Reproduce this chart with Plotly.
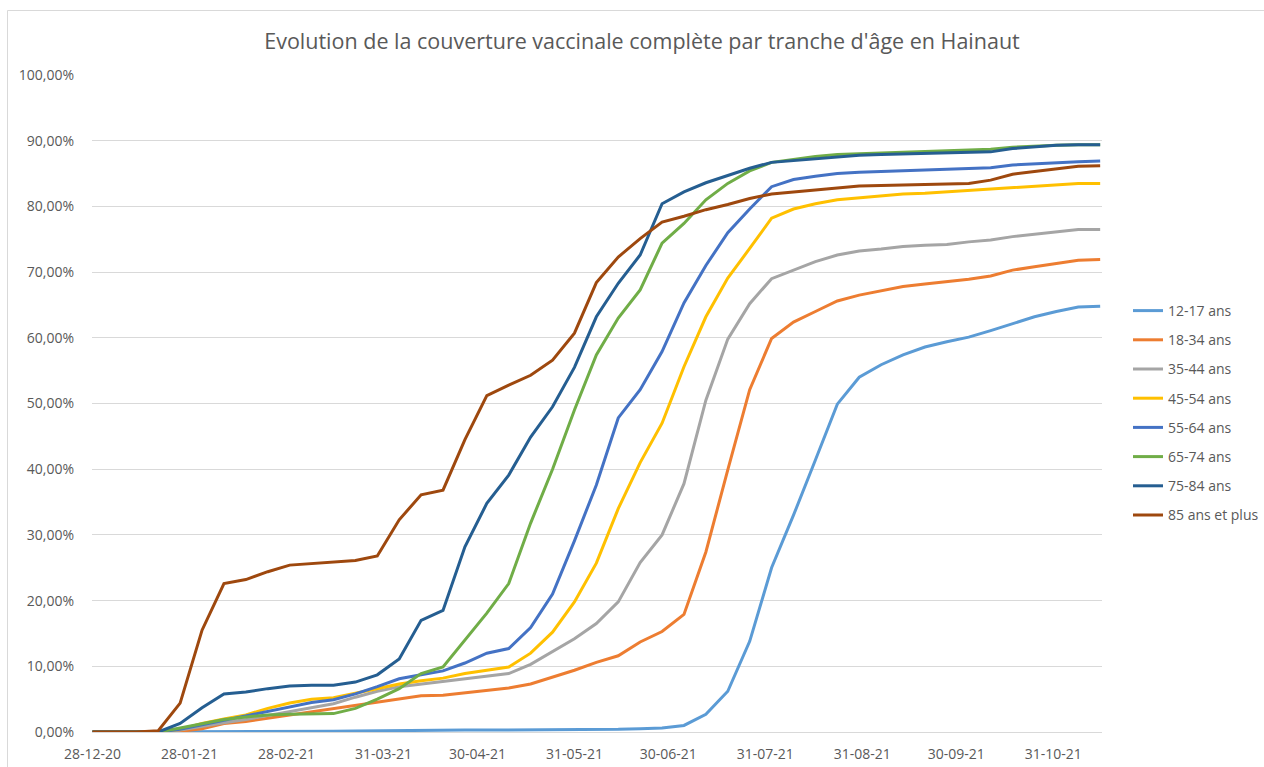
import pandas as pd
import plotly.graph_objects as go

# Weekly dates (Mondays) from 28-12-2020 to 15-11-2021
dates = pd.date_range("2020-12-28", periods=47, freq="7D")

series_names = ["12-17 ans", "18-34 ans", "35-44 ans", "45-54 ans",
                "55-64 ans", "65-74 ans", "75-84 ans", "85 ans et plus"]
series_colors = ["#5B9BD5", "#ED7D31", "#A5A5A5", "#FFC000",
                 "#4472C4", "#70AD47", "#255E91", "#9E480E"]

age_12_17 = [0, 0, 0, 0, 0.05, 0.05, 0.1, 0.1, 0.1, 0.1, 0.1, 0.1, 0.15, 0.2, 0.2,
             0.25, 0.3, 0.3, 0.3, 0.3, 0.3, 0.3, 0.35, 0.4, 0.4, 0.5, 0.6, 1.0, 2.7, 6.2,
             13.8, 25.0, 33.0, 41.4, 49.9, 54.0, 55.9, 57.4, 58.6, 59.4, 60.1, 61.1, 62.2, 63.2, 64.0,
             64.7, 64.8]
age_18_34 = [0, 0, 0, 0, 0.1, 0.5, 1.3, 1.6, 2.1, 2.6, 3.1, 3.5, 4.1, 4.6, 5.1,
             5.5, 5.6, 6.0, 6.3, 6.7, 7.3, 8.3, 9.4, 10.6, 11.6, 13.7, 15.3, 17.9, 27.4, 39.9,
             52.1, 59.9, 62.4, 64.0, 65.6, 66.5, 67.2, 67.8, 68.2, 68.5, 68.9, 69.4, 70.3, 70.8, 71.3,
             71.8, 71.9]
age_35_44 = [0, 0, 0, 0, 0.3, 0.9, 1.4, 1.9, 2.5, 3.1, 3.7, 4.3, 5.3, 6.2, 6.9,
             7.3, 7.8, 8.2, 8.5, 8.9, 10.3, 12.2, 14.2, 16.5, 19.8, 25.8, 30.0, 37.8, 50.5, 59.8,
             65.2, 69.0, 70.3, 71.6, 72.6, 73.2, 73.5, 73.9, 74.1, 74.2, 74.6, 74.9, 75.4, 75.8, 76.1,
             76.5, 76.5]
age_45_54 = [0, 0, 0, 0, 0.4, 1.3, 2.0, 2.6, 3.6, 4.4, 5.0, 5.2, 5.9, 6.6, 7.3,
             7.8, 8.2, 8.9, 9.4, 9.9, 12.0, 15.2, 19.8, 25.7, 34.0, 41.0, 47.0, 55.6, 63.2, 69.1,
             73.6, 78.2, 79.6, 80.4, 81.0, 81.3, 81.6, 81.9, 82.0, 82.2, 82.4, 82.6, 82.9, 83.1, 83.3,
             83.5, 83.5]
age_55_64 = [0, 0, 0, 0, 0.4, 1.1, 1.8, 2.4, 3.1, 3.9, 4.5, 4.9, 5.8, 6.9, 8.1,
             8.7, 9.3, 10.5, 12.0, 12.7, 15.9, 21.0, 29.1, 37.6, 47.8, 52.1, 57.9, 65.3, 71.0, 76.0,
             79.6, 83.0, 84.1, 84.6, 85.0, 85.2, 85.3, 85.5, 85.5, 85.7, 85.8, 85.9, 86.3, 86.5, 86.7,
             86.8, 86.9]
age_65_74 = [0, 0, 0, 0, 0.6, 1.2, 1.9, 2.3, 2.6, 2.7, 2.8, 2.8, 3.6, 5.0, 6.6,
             8.9, 9.9, 14.0, 18.1, 22.6, 31.8, 40.0, 49.0, 57.4, 63.0, 67.3, 74.4, 77.4, 81.0, 83.5,
             85.4, 86.7, 87.2, 87.6, 87.9, 88.0, 88.1, 88.2, 88.3, 88.4, 88.5, 88.7, 89.0, 89.2, 89.3,
             89.4, 89.4]
age_75_84 = [0, 0, 0, 0, 1.3, 3.7, 5.8, 6.1, 6.6, 7.0, 7.1, 7.1, 7.6, 8.7, 11.1,
             17.0, 18.5, 28.2, 34.8, 39.1, 44.9, 49.5, 55.5, 63.2, 68.3, 72.6, 80.4, 82.2, 83.6, 84.7,
             85.8, 86.7, 87.0, 87.3, 87.6, 87.8, 87.9, 88.0, 88.0, 88.1, 88.2, 88.3, 88.8, 89.1, 89.3,
             89.4, 89.4]
age_85_plus = [0, 0, 0, 0.2, 4.4, 15.5, 22.6, 23.2, 24.4, 25.4, 25.6, 25.8, 26.1, 26.8, 32.3,
               36.1, 36.8, 44.5, 51.2, 52.8, 54.3, 56.6, 60.7, 68.4, 72.3, 75.1, 77.6, 78.5, 79.5, 80.3,
               81.2, 81.9, 82.2, 82.6, 82.8, 83.1, 83.2, 83.3, 83.4, 83.5, 83.5, 84.0, 84.9, 85.3, 85.7,
               86.1, 86.2]

x_tick_dates = ["2020-12-28", "2021-01-28", "2021-02-28", "2021-03-31", "2021-04-30",
                "2021-05-31", "2021-06-30", "2021-07-31", "2021-08-31", "2021-09-30",
                "2021-10-31"]
x_tick_labels = ["28-12-20", "28-01-21", "28-02-21", "31-03-21", "30-04-21",
                 "31-05-21", "30-06-21", "31-07-21", "31-08-21", "30-09-21",
                 "31-10-21"]
y_tick_values = [0, 10, 20, 30, 40, 50, 60, 70, 80, 90, 100]
y_tick_labels = [f"{v},00%" for v in y_tick_values]

all_series = [age_12_17, age_18_34, age_35_44, age_45_54,
              age_55_64, age_65_74, age_75_84, age_85_plus]

FONT = "Open Sans, Calibri, sans-serif"
GREY_TEXT = "#595959"
GRID = "#D9D9D9"

fig = go.Figure()
for i, (name, color, vals) in enumerate(zip(series_names, series_colors, all_series)):
    fig.add_trace(go.Scatter(
        x=dates, y=vals, name=name, mode="lines",
        line=dict(color=color, width=3),
        legendgroup=f"g{i}",
    ))

# plot area in pixels: x 92..1102, y 75..732
L, R, T, B = 92, 1102, 75, 732
W, H = 1264, 767

def px_to_paper_x(px):
    return (px - L) / (R - L)

def px_to_paper_y(py):
    return (B - py) / (B - T)

fig.update_layout(
    width=W, height=H,
    margin=dict(l=L, r=W - R, t=T, b=H - B, pad=0, autoexpand=False),
    paper_bgcolor="white", plot_bgcolor="white",
    font=dict(family=FONT, color=GREY_TEXT, size=14),
    title=dict(
        text="Evolution de la couverture vaccinale complète par tranche d'âge en Hainaut",
        font=dict(family=FONT, size=21.5, color=GREY_TEXT),
        x=642 / W, xref="container", xanchor="center",
        y=1 - 41 / H, yref="container", yanchor="middle",
    ),
    xaxis=dict(
        type="date",
        range=["2020-12-27 20:00", "2021-11-15 14:00"],
        tickmode="array", tickvals=x_tick_dates, ticktext=x_tick_labels,
        showgrid=False, zeroline=False,
        showline=True, linecolor=GRID, linewidth=1,
        ticks="", tickfont=dict(size=14, color=GREY_TEXT),
        ticklabelstandoff=9,
    ),
    yaxis=dict(
        range=[0, 100],
        tickmode="array", tickvals=y_tick_values, ticktext=y_tick_labels,
        showgrid=True, gridcolor=GRID, gridwidth=1,
        zeroline=False, showline=False, ticks="",
        tickfont=dict(size=14, color=GREY_TEXT),
        ticklabelstandoff=17,
    ),
    legend=dict(
        x=px_to_paper_x(1128), xanchor="left",
        y=px_to_paper_y(413), yanchor="middle",
        font=dict(size=14, color=GREY_TEXT),
        tracegroupgap=8, bgcolor="rgba(0,0,0,0)",
        itemwidth=30,
    ),
    showlegend=True,
    shapes=[dict(
        type="rect", xref="paper", yref="paper",
        x0=px_to_paper_x(7.5), x1=px_to_paper_x(1300),
        y0=px_to_paper_y(800), y1=px_to_paper_y(10.5),
        line=dict(color=GRID, width=1), fillcolor="rgba(0,0,0,0)",
        layer="below",
    )],
)

fig.write_html(
    "out.html",
    config={"displayModeBar": False},
    post_script="document.body.style.margin='0px';document.body.style.overflow='hidden';",
)
